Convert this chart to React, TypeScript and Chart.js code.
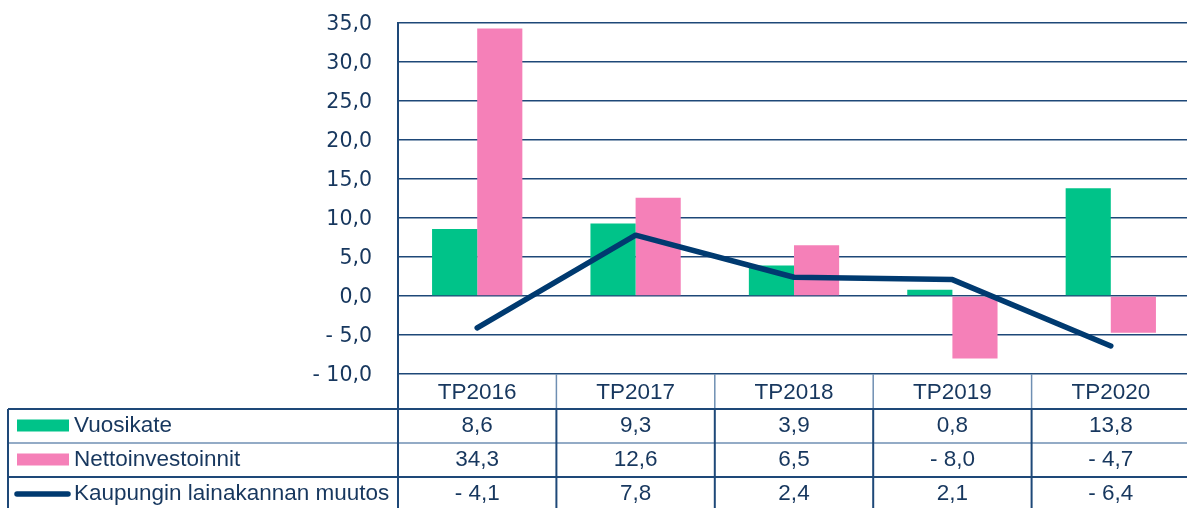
import React, { useEffect, useRef } from "react";
import { Chart, registerables } from "chart.js";

Chart.register(...registerables);

const categories = ["TP2016", "TP2017", "TP2018", "TP2019", "TP2020"];
const vuosikate = [8.6, 9.3, 3.9, 0.8, 13.8];
const nettoinvestoinnit = [34.3, 12.6, 6.5, -8.0, -4.7];
const lainakannanMuutos = [-4.1, 7.8, 2.4, 2.1, -6.4];
const seriesNames = ["Vuosikate", "Nettoinvestoinnit", "Kaupungin lainakannan muutos"];
const yMin = -10;
const yMax = 35;
const yStep = 5;

const TEXT = "#17375E";
const GRID = "#1E4878";
const LIGHT = "#6F8FB3";
const LINE_NAVY = "#003A70";
const GREEN = "#00C389";
const PINK = "#F580B8";
const TABLE_FONT = '22.5px "Liberation Sans", Arial, sans-serif';

function fmt(v: number): string {
  const s = Math.abs(v).toFixed(1).replace(".", ",");
  return v < 0 ? "- " + s : s;
}

const tablePlugin = {
  id: "dataTable",
  afterDraw(chart: any) {
    const { ctx, chartArea, scales } = chart;
    const x = scales.x;
    const W = chart.width;
    const H = chart.height;
    const top = chartArea.bottom;
    const headerH = 35;
    const rowH = 34;
    const tableLeft = 8;
    const plotLeft = chartArea.left;
    const step = x.getPixelForValue(1) - x.getPixelForValue(0);
    const bounds: number[] = categories.map((_, i) => x.getPixelForValue(i) - step / 2);
    bounds.push(x.getPixelForValue(categories.length - 1) + step / 2);
    const r0 = top + headerH;
    const rowTops = [r0, r0 + rowH, r0 + 2 * rowH];

    ctx.save();
    ctx.strokeStyle = LIGHT;
    ctx.lineWidth = 1.5;
    for (let i = 1; i < bounds.length; i++) {
      ctx.beginPath();
      ctx.moveTo(bounds[i], top);
      ctx.lineTo(bounds[i], r0);
      ctx.stroke();
    }
    const hLines = [
      { y: rowTops[0], c: GRID, w: 2 },
      { y: rowTops[1], c: LIGHT, w: 1.5 },
      { y: rowTops[2], c: GRID, w: 2 },
    ];
    hLines.forEach((l) => {
      ctx.strokeStyle = l.c;
      ctx.lineWidth = l.w;
      ctx.beginPath();
      ctx.moveTo(tableLeft, l.y);
      ctx.lineTo(W, l.y);
      ctx.stroke();
    });
    ctx.strokeStyle = GRID;
    ctx.lineWidth = 2;
    const vx = [tableLeft, ...bounds.slice(1)];
    vx.forEach((vxi) => {
      ctx.beginPath();
      ctx.moveTo(vxi, r0);
      ctx.lineTo(vxi, H);
      ctx.stroke();
    });
    ctx.beginPath();
    ctx.moveTo(plotLeft, chartArea.top);
    ctx.lineTo(plotLeft, H);
    ctx.stroke();

    ctx.fillStyle = TEXT;
    ctx.font = TABLE_FONT;
    ctx.textAlign = "center";
    ctx.textBaseline = "middle";
    categories.forEach((c, i) => {
      ctx.fillText(c, x.getPixelForValue(i), top + headerH / 2 + 1);
    });

    const rows = [vuosikate, nettoinvestoinnit, lainakannanMuutos];
    rows.forEach((vals, r) => {
      const cy = rowTops[r] + rowH / 2;
      if (r === 0 || r === 1) {
        ctx.fillStyle = r === 0 ? GREEN : PINK;
        ctx.fillRect(17, cy - 6.5, 52, 12);
      } else {
        ctx.strokeStyle = LINE_NAVY;
        ctx.lineWidth = 5.5;
        ctx.lineCap = "round";
        ctx.beginPath();
        ctx.moveTo(17, cy);
        ctx.lineTo(68, cy);
        ctx.stroke();
      }
      ctx.fillStyle = TEXT;
      ctx.textAlign = "left";
      ctx.fillText(seriesNames[r], 74, cy);
      ctx.textAlign = "center";
      vals.forEach((v, i) => {
        ctx.fillText(fmt(v), x.getPixelForValue(i), cy);
      });
    });
    ctx.restore();
  },
};

export default function App() {
  const ref = useRef<HTMLCanvasElement | null>(null);

  useEffect(() => {
    if (!ref.current) return;
    const chart = new Chart(ref.current, {
      type: "bar",
      data: {
        labels: categories,
        datasets: [
          {
            type: "bar",
            label: seriesNames[0],
            data: vuosikate,
            backgroundColor: GREEN,
            borderWidth: 0,
            order: 1,
          },
          {
            type: "bar",
            label: seriesNames[1],
            data: nettoinvestoinnit,
            backgroundColor: PINK,
            borderWidth: 0,
            order: 1,
          },
          {
            type: "line",
            label: seriesNames[2],
            data: lainakannanMuutos,
            borderColor: LINE_NAVY,
            backgroundColor: LINE_NAVY,
            borderWidth: 5.5,
            pointRadius: 0,
            tension: 0,
            borderCapStyle: "round",
            borderJoinStyle: "round",
            order: 0,
          } as any,
        ],
      },
      options: {
        animation: false,
        responsive: false,
        maintainAspectRatio: false,
        layout: { padding: { top: 23, bottom: 134, left: 0, right: 0 } },
        datasets: {
          bar: { categoryPercentage: 0.57, barPercentage: 1 },
        },
        plugins: {
          legend: { display: false },
          tooltip: { enabled: false },
        },
        scales: {
          x: {
            display: false,
            offset: true,
          },
          y: {
            min: yMin,
            max: yMax,
            ticks: {
              stepSize: yStep,
              padding: 26,
              labelOffset: 2,
              color: TEXT,
              font: { family: '"DejaVu Sans", Verdana, sans-serif', size: 20.5 },
              callback: (v: any) => fmt(Number(v)),
            },
            grid: { color: GRID, lineWidth: 1.5, drawTicks: false },
            border: { display: true, color: GRID, width: 2 },
            afterFit: (scale: any) => {
              scale.width = 398;
              scale.paddingTop = 0;
              scale.paddingBottom = 0;
            },
          },
        },
      },
      plugins: [tablePlugin],
    });
    return () => chart.destroy();
  }, []);

  return (
    <div
      style={{
        position: "absolute",
        left: 0,
        top: 0,
        width: 1187,
        height: 508,
        overflow: "hidden",
        background: "#fff",
      }}
    >
      <canvas ref={ref} width={1190} height={508} style={{ width: 1190, height: 508, display: "block" }} />
    </div>
  );
}
